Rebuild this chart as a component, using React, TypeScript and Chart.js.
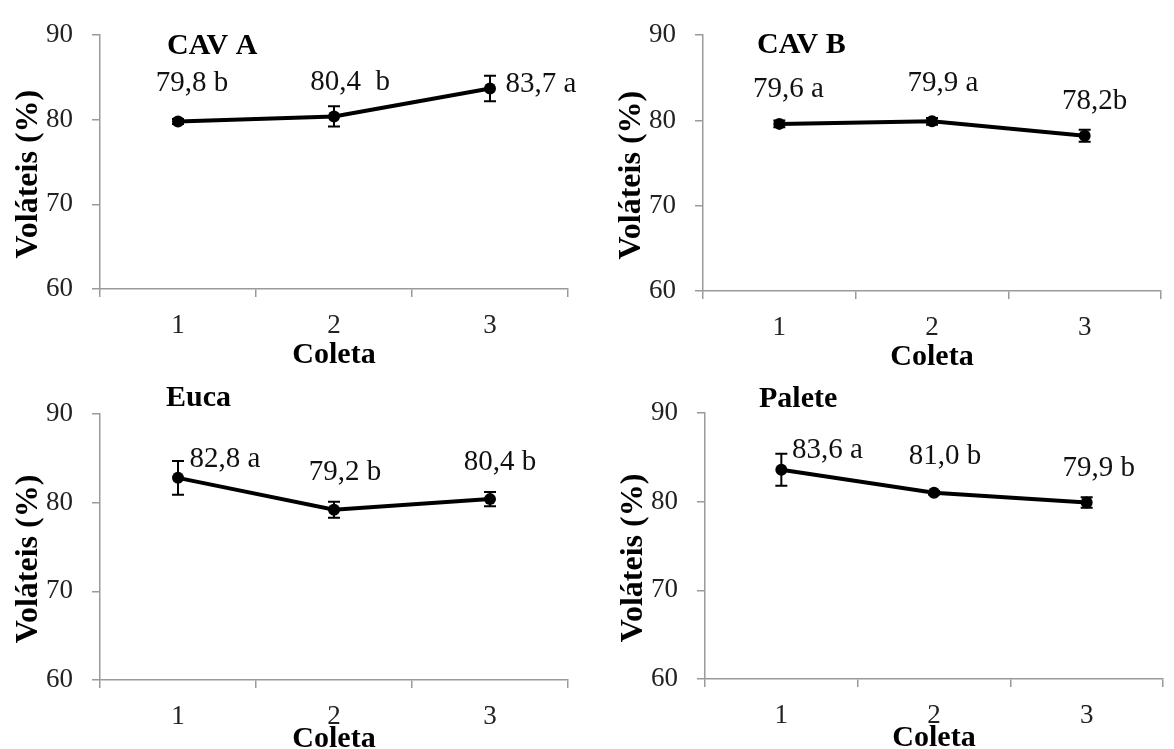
import React, { useEffect, useRef } from 'react';
import { Chart, registerables } from 'chart.js';

Chart.register(...registerables);

// ---------- data ----------
const categories = ['1', '2', '3'];
const yMin = 60;
const yMax = 90;
const yStep = 10;

const panelTitles = ['CAV A', 'CAV B', 'Euca', 'Palete'];

const cavAValues = [79.8, 80.4, 83.7];
const cavAErrors = [0.3, 1.2, 1.5];
const cavALabels = ['79,8 b', '80,4  b', '83,7 a'];

const cavBValues = [79.6, 79.9, 78.2];
const cavBErrors = [0.4, 0.4, 0.7];
const cavBLabels = ['79,6 a', '79,9 a', '78,2b'];

const eucaValues = [82.8, 79.2, 80.4];
const eucaErrors = [1.9, 0.9, 0.8];
const eucaLabels = ['82,8 a', '79,2 b', '80,4 b'];

const paleteValues = [83.6, 81.0, 79.9];
const paleteErrors = [1.8, 0.2, 0.6];
const paleteLabels = ['83,6 a', '81,0 b', '79,9 b'];

const yTitle = 'Voláteis (%)';
const xTitle = 'Coleta';

// ---------- layout (positions / styles) ----------
const SERIF = "'Liberation Serif', 'Times New Roman', serif";
const AXIS_COLOR = '#9a9a9a';

type Layout = {
  left: number; top: number; w: number; h: number;
  area: { left: number; top: number; right: number; bottom: number };
  titleDx: number; titleDy: number;
  xTitleDy: number;
  labelOffsets: number[][];
};

const layouts: Layout[] = [
  {
    left: 0, top: 0, w: 587, h: 375,
    area: { left: 100, top: 24, right: 568, bottom: 289 },
    titleDx: 67, titleDy: 11, xTitleDy: 66,
    labelOffsets: [[14, -38], [16, -34], [51, -4]],
  },
  {
    left: 587, top: 0, w: 587, h: 375,
    area: { left: 116, top: 25, right: 574, bottom: 291 },
    titleDx: 54, titleDy: 10, xTitleDy: 66,
    labelOffsets: [[9, -34], [11, -38], [10, -34]],
  },
  {
    left: 0, top: 375, w: 587, h: 374,
    area: { left: 100, top: 39, right: 568, bottom: 305 },
    titleDx: 66, titleDy: -16, xTitleDy: 59,
    labelOffsets: [[47, -18], [11, -37], [10, -37]],
  },
  {
    left: 587, top: 375, w: 587, h: 374,
    area: { left: 118, top: 38, right: 576, bottom: 304 },
    titleDx: 54, titleDy: -14, xTitleDy: 59,
    labelOffsets: [[46, -19], [11, -36], [12, -34]],
  },
];

const panelValues = [cavAValues, cavBValues, eucaValues, paleteValues];
const panelErrors = [cavAErrors, cavBErrors, eucaErrors, paleteErrors];
const panelLabels = [cavALabels, cavBLabels, eucaLabels, paleteLabels];

function makePlugin(idx: number) {
  const lay = layouts[idx];
  const values = panelValues[idx];
  const errors = panelErrors[idx];
  const labels = panelLabels[idx];
  return {
    id: 'panelDecor' + idx,
    afterDatasetsDraw(chart: any) {
      const ctx = chart.ctx as CanvasRenderingContext2D;
      const ys = chart.scales.y;
      const meta = chart.getDatasetMeta(0);
      const area = chart.chartArea;
      ctx.save();
      // error bars
      ctx.strokeStyle = '#000';
      ctx.lineWidth = 2;
      values.forEach((v, i) => {
        const x = meta.data[i].x;
        const yt = ys.getPixelForValue(v + errors[i]);
        const yb = ys.getPixelForValue(v - errors[i]);
        ctx.beginPath();
        ctx.moveTo(x, yt); ctx.lineTo(x, yb);
        ctx.moveTo(x - 6, yt); ctx.lineTo(x + 6, yt);
        ctx.moveTo(x - 6, yb); ctx.lineTo(x + 6, yb);
        ctx.stroke();
      });
      // point labels
      ctx.fillStyle = '#111';
      ctx.font = `29px ${SERIF}`;
      ctx.textAlign = 'center';
      ctx.textBaseline = 'middle';
      labels.forEach((t, i) => {
        const pt = meta.data[i];
        const off = lay.labelOffsets[i];
        ctx.fillText(t, pt.x + off[0], pt.y + off[1]);
      });
      // panel title
      ctx.fillStyle = '#000';
      ctx.font = `bold 30px ${SERIF}`;
      ctx.textAlign = 'left';
      ctx.fillText(panelTitles[idx], area.left + lay.titleDx, area.top + lay.titleDy);
      // x title
      ctx.textAlign = 'center';
      ctx.fillText(xTitle, (area.left + area.right) / 2, area.bottom + lay.xTitleDy);
      // y title
      ctx.save();
      ctx.translate(area.left - 71, (area.top + area.bottom) / 2 + 12);
      ctx.rotate(-Math.PI / 2);
      ctx.font = `bold 32px ${SERIF}`;
      ctx.fillText(yTitle, 0, 0);
      ctx.restore();
      ctx.restore();
    },
  };
}

function Panel({ idx }: { idx: number }) {
  const ref = useRef<HTMLCanvasElement | null>(null);
  useEffect(() => {
    const lay = layouts[idx];
    const canvas = ref.current!;
    const chart = new Chart(canvas, {
      type: 'line',
      data: {
        labels: categories,
        datasets: [
          {
            data: panelValues[idx],
            borderColor: '#000',
            backgroundColor: '#000',
            borderWidth: 4,
            pointRadius: 6,
            pointBackgroundColor: '#000',
            pointBorderColor: '#000',
            pointBorderWidth: 0,
            tension: 0,
            fill: false,
          },
        ],
      },
      options: {
        animation: false,
        responsive: false,
        devicePixelRatio: 1,
        layout: {
          padding: {
            left: 0,
            top: lay.area.top,
            right: lay.w - lay.area.right,
            bottom: 0,
          },
        },
        plugins: {
          legend: { display: false },
          tooltip: { enabled: false },
          title: { display: false },
        },
        scales: {
          x: {
            type: 'category',
            offset: true,
            grid: {
              offset: true,
              drawOnChartArea: false,
              drawTicks: true,
              tickLength: 8,
              color: AXIS_COLOR,
              lineWidth: 1.5,
            },
            border: { display: true, color: AXIS_COLOR, width: 1.5 },
            ticks: {
              color: '#222',
              font: { family: SERIF, size: 27 },
              padding: 13,
              maxRotation: 0,
            },
            afterFit: (s: any) => {
              s.height = lay.h - lay.area.bottom;
            },
          },
          y: {
            type: 'linear',
            min: yMin,
            max: yMax,
            ticks: {
              stepSize: yStep,
              color: '#222',
              font: { family: SERIF, size: 27 },
              padding: 19,
            },
            grid: {
              drawOnChartArea: false,
              drawTicks: true,
              tickLength: 8,
              color: AXIS_COLOR,
              lineWidth: 1.5,
            },
            border: { display: true, color: AXIS_COLOR, width: 1.5 },
            afterFit: (s: any) => {
              s.width = lay.area.left;
            },
          },
        },
      } as any,
      plugins: [makePlugin(idx)],
    });
    return () => chart.destroy();
  }, [idx]);
  const lay = layouts[idx];
  return (
    <div style={{ position: 'absolute', left: lay.left, top: lay.top, width: lay.w, height: lay.h }}>
      <canvas ref={ref} width={lay.w} height={lay.h} style={{ display: 'block', width: lay.w, height: lay.h }} />
    </div>
  );
}

export default function App() {
  return (
    <div style={{ position: 'absolute', left: 0, top: 0, width: 1174, height: 749, background: '#fff', overflow: 'hidden' }}>
      {[0, 1, 2, 3].map((i) => (
        <Panel key={i} idx={i} />
      ))}
    </div>
  );
}
